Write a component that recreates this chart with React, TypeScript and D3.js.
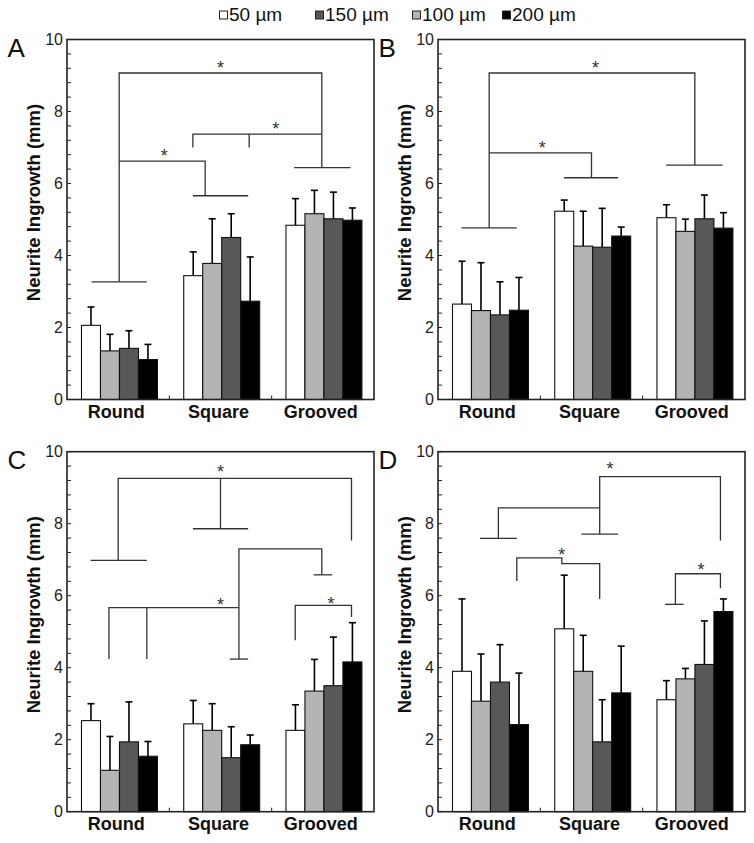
import React from 'react';
import * as d3 from 'd3';

const categories = ['Round', 'Square', 'Grooved'];
const series = ['50 µm', '100 µm', '150 µm', '200 µm'];
const seriesColors = ['#ffffff', '#b4b4b4', '#58585a', '#000000'];
const legendOrder = [0, 2, 1, 3];
const yTickLabels = [0, 2, 4, 6, 8, 10];
const panelLetters = ['A', 'B', 'C', 'D'];

// means [category][series], series order: 50, 100, 150, 200 µm
const meansA = [[2.06, 1.35, 1.42, 1.11], [3.44, 3.78, 4.5, 2.73], [4.84, 5.16, 5.02, 4.98]];
const sdA = [[0.51, 0.46, 0.49, 0.42], [0.66, 1.24, 0.66, 1.23], [0.74, 0.65, 0.74, 0.34]];
const meansB = [[2.65, 2.47, 2.35, 2.48], [5.23, 4.26, 4.23, 4.54], [5.05, 4.67, 5.02, 4.76]];
const sdB = [[1.19, 1.33, 0.92, 0.91], [0.31, 0.97, 1.08, 0.25], [0.36, 0.34, 0.66, 0.43]];
const meansC = [[2.53, 1.15, 1.94, 1.54], [2.44, 2.26, 1.5, 1.86], [2.26, 3.35, 3.5, 4.16]];
const sdC = [[0.47, 0.94, 1.11, 0.41], [0.65, 0.74, 0.86, 0.27], [0.71, 0.88, 1.35, 1.09]];
const meansD = [[3.9, 3.07, 3.6, 2.42], [5.08, 3.9, 1.94, 3.3], [3.11, 3.69, 4.09, 5.56]];
const sdD = [[2.01, 1.31, 1.04, 1.43], [1.49, 1.0, 1.17, 1.3], [0.53, 0.29, 1.21, 0.35]];

// significance brackets: polylines in (category-axis units 0..3, value)
type Pt = [number, number];
const bracketsA: Pt[][] = [
  [[0.51, 3.27], [0.51, 9.07], [2.49, 9.07], [2.49, 6.44]],
  [[0.24, 3.27], [0.78, 3.27]],
  [[2.22, 6.44], [2.77, 6.44]],
  [[0.51, 6.62], [1.35, 6.62], [1.35, 5.66]],
  [[1.23, 5.66], [1.77, 5.66]],
  [[1.23, 7.0], [1.23, 7.37], [2.49, 7.37]],
  [[1.78, 7.37], [1.78, 7.0]],
];
const starsA: Pt[] = [[1.5, 9.33], [0.95, 6.88], [2.04, 7.62]];

const bracketsB: Pt[][] = [
  [[0.5, 4.77], [0.5, 9.07], [2.51, 9.07], [2.51, 6.51]],
  [[0.23, 4.77], [0.77, 4.77]],
  [[2.23, 6.51], [2.78, 6.51]],
  [[0.5, 6.85], [1.5, 6.85], [1.5, 6.16]],
  [[1.23, 6.16], [1.76, 6.16]],
];
const starsB: Pt[] = [[1.54, 9.33], [1.02, 7.11]];

const bracketsC: Pt[][] = [
  [[0.5, 6.98], [0.5, 9.26], [2.78, 9.26], [2.78, 7.53]],
  [[0.23, 6.98], [0.78, 6.98]],
  [[1.5, 9.26], [1.5, 7.86]],
  [[1.23, 7.86], [1.77, 7.86]],
  [[1.68, 4.24], [1.68, 7.3], [2.49, 7.3], [2.49, 6.58]],
  [[1.59, 4.24], [1.77, 4.24]],
  [[2.41, 6.58], [2.59, 6.58]],
  [[0.41, 4.24], [0.41, 5.67], [1.68, 5.67]],
  [[0.78, 5.67], [0.78, 4.24]],
  [[2.23, 4.76], [2.23, 5.73], [2.78, 5.73], [2.78, 5.41]],
];
const starsC: Pt[] = [[1.5, 9.54], [1.5, 5.84], [2.58, 5.89]];

const bracketsD: Pt[][] = [
  [[0.59, 7.59], [0.59, 8.44], [1.58, 8.44]],
  [[0.41, 7.59], [0.77, 7.59]],
  [[1.58, 7.71], [1.58, 9.31], [2.76, 9.31], [2.76, 7.53]],
  [[1.4, 7.71], [1.76, 7.71]],
  [[0.77, 6.41], [0.77, 7.05], [1.21, 7.05], [1.21, 6.89], [1.58, 6.89], [1.58, 5.91]],
  [[2.32, 5.76], [2.32, 6.61], [2.76, 6.61], [2.76, 6.21]],
  [[2.22, 5.76], [2.4, 5.76]],
];
const starsD: Pt[] = [[1.68, 9.63], [1.21, 7.25], [2.57, 6.83]];

const FONT = "'Liberation Sans', Arial, Helvetica, sans-serif";
const W = 307;
const H = 360;
const panelOrigins: Pt[] = [[67, 39.5], [438, 39.5], [67, 451.7], [438, 451.7]];
const legendX = [219, 315, 412, 502];

interface PanelProps {
  ox: number;
  oy: number;
  letter: string;
  means: number[][];
  sds: number[][];
  brackets: Pt[][];
  stars: Pt[];
}

function Panel({ ox, oy, letter, means, sds, brackets, stars }: PanelProps) {
  const y = d3.scaleLinear().domain([0, 10]).range([H, 0]);
  const x0 = d3.scaleBand<string>().domain(categories).range([0, W]).paddingInner(0.257).paddingOuter(0.13);
  const x1 = d3.scaleBand<string>().domain(series).range([0, x0.bandwidth()]).padding(0);
  const xu = d3.scaleLinear().domain([0, 3]).range([0, W]);
  const line = d3.line<Pt>().x((d) => xu(d[0])).y((d) => y(d[1]));
  const minor = d3.range(0, 10.001, 0.4);
  return (
    <g transform={`translate(${ox},${oy})`}>
      <text x={-59.5} y={17.5} fontSize={26} fontFamily={FONT} fill="#111">{letter}</text>
      {categories.map((c, ci) => (
        <g key={c} transform={`translate(${x0(c)! + 1.2},0)`}>
          {series.map((s, si) => {
            const v = means[ci][si];
            const e = sds[ci][si];
            const bx = x1(s)!;
            const bw = x1.bandwidth();
            const cx = bx + bw / 2;
            return (
              <g key={s}>
                <line x1={cx} x2={cx} y1={y(v)} y2={y(v + e)} stroke="#000" strokeWidth={1.6} />
                <line x1={cx - 3.5} x2={cx + 3.5} y1={y(v + e)} y2={y(v + e)} stroke="#000" strokeWidth={1.6} />
                <rect x={bx} y={y(v)} width={bw} height={H - y(v)} fill={seriesColors[si]} stroke="#111" strokeWidth={1.1} />
              </g>
            );
          })}
        </g>
      ))}
      {brackets.map((b, i) => (
        <path key={i} d={line(b)!} fill="none" stroke="#333" strokeWidth={1.3} />
      ))}
      {stars.map((s, i) => (
        <text key={i} x={xu(s[0])} y={y(s[1]) + 10} textAnchor="middle" fontSize={18} fontFamily={FONT} fill="#333">*</text>
      ))}
      {minor.map((t) => (
        <line key={t} x1={0} x2={4} y1={y(t)} y2={y(t)} stroke="#222" strokeWidth={1} />
      ))}
      {[1, 2].map((k) => (
        <line key={k} x1={xu(k)} x2={xu(k)} y1={H} y2={H - 4} stroke="#222" strokeWidth={1} />
      ))}
      <rect x={0} y={0} width={W} height={H} fill="none" stroke="#222" strokeWidth={1.6} />
      {yTickLabels.map((t) => (
        <text key={t} x={-4} y={y(t)} dy="0.36em" textAnchor="end" fontSize={16} fontFamily={FONT} fill="#222">{t}</text>
      ))}
      {categories.map((c) => (
        <text key={c} x={x0(c)! + x0.bandwidth() / 2 - 2} y={H + 18.5} textAnchor="middle" fontSize={18} fontWeight="bold" fontFamily={FONT} fill="#111">{c}</text>
      ))}
      <text transform={`translate(-27,${H / 2 - 17}) rotate(-90)`} textAnchor="middle" fontSize={18.5} fontWeight="bold" fontFamily={FONT} fill="#111">Neurite Ingrowth (mm)</text>
    </g>
  );
}

export default function App() {
  const panels = [
    { means: meansA, sds: sdA, brackets: bracketsA, stars: starsA },
    { means: meansB, sds: sdB, brackets: bracketsB, stars: starsB },
    { means: meansC, sds: sdC, brackets: bracketsC, stars: starsC },
    { means: meansD, sds: sdD, brackets: bracketsD, stars: starsD },
  ];
  return (
    <svg width={754} height={843} style={{ position: 'absolute', left: 0, top: 0, background: '#fff' }}>
      <rect width={754} height={843} fill="#fff" />
      {legendOrder.map((si, i) => (
        <g key={si} transform={`translate(${legendX[i]},0)`}>
          <rect x={0.5} y={11} width={8} height={8} fill={seriesColors[si]} stroke="#222" strokeWidth={1} />
          <text x={10} y={20.5} fontSize={19} fontFamily={FONT} fill="#111">{series[si]}</text>
        </g>
      ))}
      {panels.map((p, i) => (
        <Panel key={i} ox={panelOrigins[i][0]} oy={panelOrigins[i][1]} letter={panelLetters[i]} {...p} />
      ))}
    </svg>
  );
}
